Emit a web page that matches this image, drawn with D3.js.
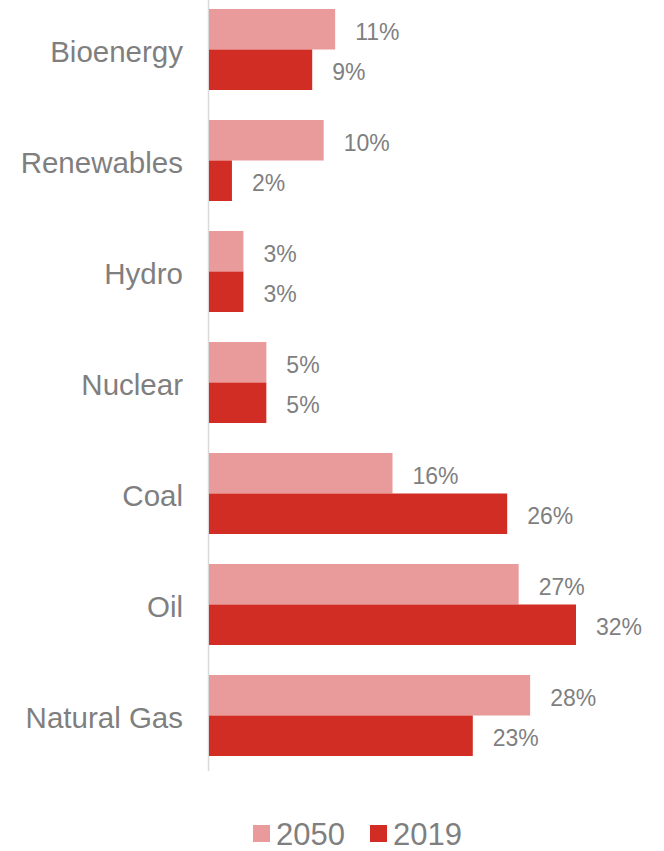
<!DOCTYPE html>
<html>
<head>
<meta charset="utf-8">
<script src="https://cdn.jsdelivr.net/npm/d3@7"></script>
<style>
  body { margin: 0; background: #fff; }
</style>
</head>
<body>
<div id="chart"></div>
<script>
var categories = ['Bioenergy', 'Renewables', 'Hydro', 'Nuclear', 'Coal', 'Oil', 'Natural Gas'];
var series = ['2050', '2019'];
var values2050 = [11, 10, 3, 5, 16, 27, 28];
var values2019 = [9, 2, 3, 5, 26, 32, 23];
var colors = ['#E99A9A', '#D22D24'];

var width = 664, height = 851;
var textColor = '#7f7f7f';

var svg = d3.select('#chart').append('svg')
  .attr('width', width)
  .attr('height', height);

var x = d3.scaleLinear().domain([0, 32]).range([209, 576]);

var y = d3.scaleBand()
  .domain(categories)
  .range([-6, 771])
  .paddingInner(30 / 111)
  .paddingOuter(15 / 111);

var inner = d3.scaleBand().domain(series).range([0, y.bandwidth()]);

var rows = categories.map(function (c, i) {
  return { cat: c, vals: [values2050[i], values2019[i]] };
});

// axis line
svg.append('line')
  .attr('x1', 208.5).attr('x2', 208.5)
  .attr('y1', 0).attr('y2', 771)
  .attr('stroke', '#d9d9d9')
  .attr('stroke-width', 1.5);

var g = svg.selectAll('g.row')
  .data(rows)
  .enter()
  .append('g')
  .attr('class', 'row')
  .attr('transform', function (d) { return 'translate(0,' + y(d.cat) + ')'; });

g.selectAll('rect')
  .data(function (d) { return d.vals.map(function (v, j) { return { s: series[j], v: v, j: j }; }); })
  .enter()
  .append('rect')
  .attr('x', x(0))
  .attr('y', function (d) { return inner(d.s); })
  .attr('width', function (d) { return x(d.v) - x(0); })
  .attr('height', inner.bandwidth())
  .attr('fill', function (d) { return colors[d.j]; });

g.selectAll('text.val')
  .data(function (d) { return d.vals.map(function (v, j) { return { s: series[j], v: v }; }); })
  .enter()
  .append('text')
  .attr('class', 'val')
  .attr('x', function (d) { return x(d.v) + 20; })
  .attr('y', function (d) { return inner(d.s) + inner.bandwidth() / 2; })
  .attr('dy', '0.45em')
  .attr('font-family', 'Liberation Sans, Arial, sans-serif')
  .attr('font-size', '23px')
  .attr('fill', textColor)
  .text(function (d) { return d.v + '%'; });

g.append('text')
  .attr('x', 183)
  .attr('y', y.bandwidth() / 2)
  .attr('dy', '0.42em')
  .attr('text-anchor', 'end')
  .attr('font-family', 'Liberation Sans, Arial, sans-serif')
  .attr('font-size', '29.5px')
  .attr('fill', textColor)
  .text(function (d) { return d.cat; });

// legend
var legendX = [253, 370];
var lg = svg.selectAll('g.legend')
  .data(series)
  .enter()
  .append('g')
  .attr('class', 'legend')
  .attr('transform', function (d, i) { return 'translate(' + legendX[i] + ',825)'; });

lg.append('rect')
  .attr('width', 17).attr('height', 17)
  .attr('fill', function (d, i) { return colors[i]; });

lg.append('text')
  .attr('x', 23)
  .attr('y', 9)
  .attr('dy', '0.36em')
  .attr('font-family', 'Liberation Sans, Arial, sans-serif')
  .attr('font-size', '31px')
  .attr('fill', textColor)
  .text(function (d) { return d; });
</script>
</body>
</html>
